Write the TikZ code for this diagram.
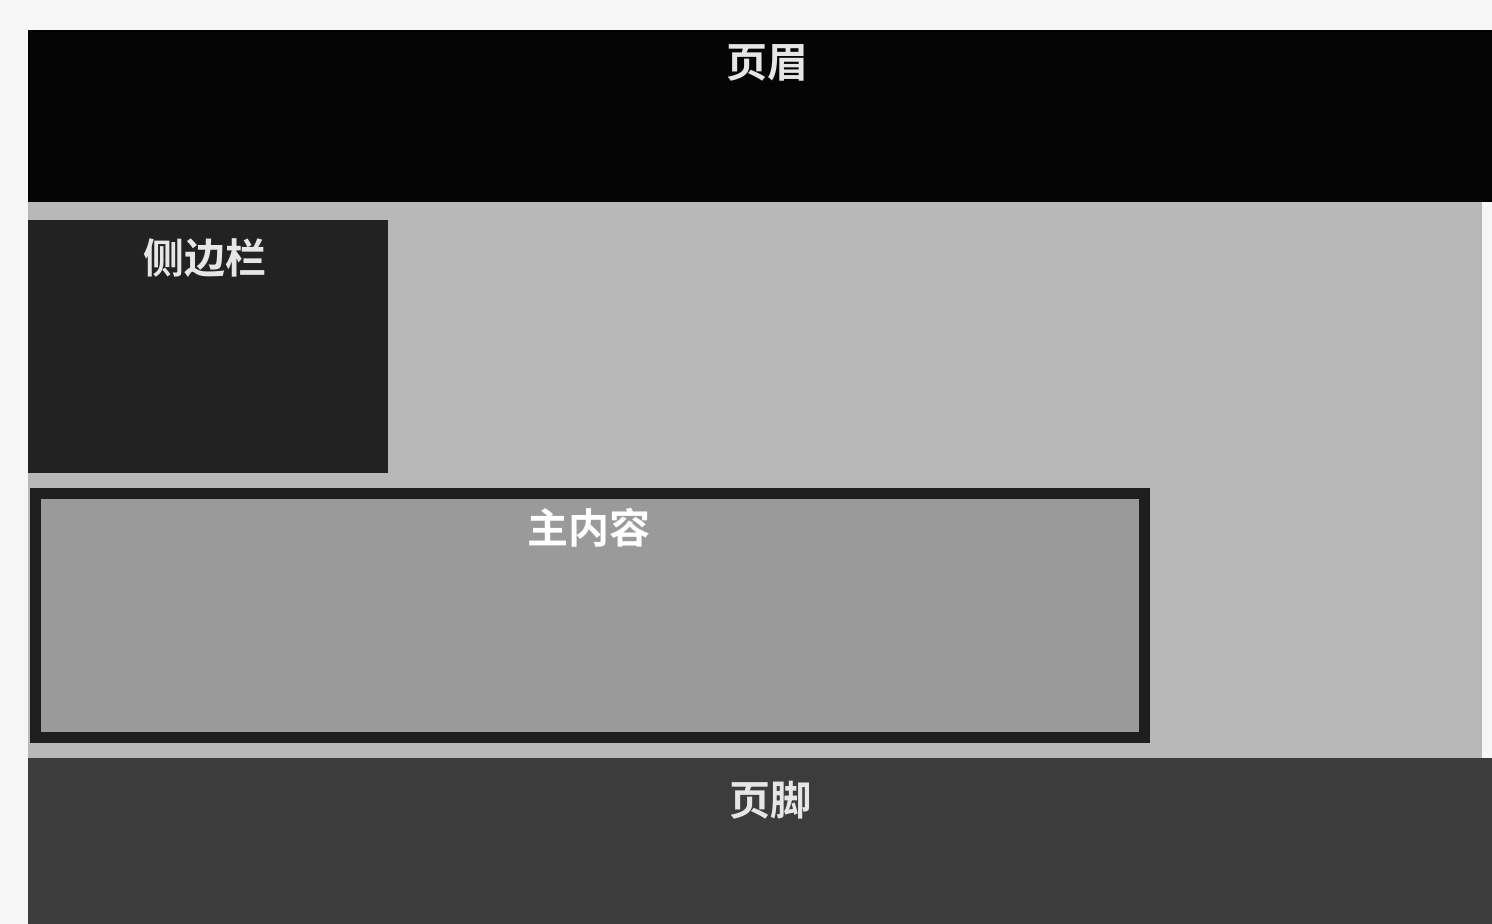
\documentclass[tikz,border=0pt]{standalone}
\usepackage{fontspec}
\newfontfamily\cjk{Noto Sans CJK SC}[BoldFont={* Bold}]
\usepackage{xcolor}
\usetikzlibrary{positioning}

\definecolor{pagebg}{HTML}{F6F6F6}
\definecolor{headbg}{HTML}{050505}
\definecolor{wrapbg}{HTML}{B8B8B8}
\definecolor{sidebg}{HTML}{222222}
\definecolor{mainbg}{HTML}{9A9A9A}
\definecolor{mainline}{HTML}{1E1E1E}
\definecolor{footbg}{HTML}{3C3C3C}
\definecolor{labeltext}{HTML}{E6E6E6}

\begin{document}
\begin{tikzpicture}[
    x=1pt, y=-1pt,
    block/.style={rectangle, inner sep=0pt, outer sep=0pt},
    title/.style={inner sep=0pt, text=labeltext, font=\cjk\bfseries\fontsize{41}{50}\selectfont}
]
    % Page
    \fill[pagebg] (0,0) rectangle (1492,924);
    \useasboundingbox (0,0) rectangle (1492,924);

    % Blocks
    \node[block, fill=headbg, minimum width=1464pt, minimum height=172pt] (header) at (760,116) {};
    \node[block, fill=wrapbg, minimum width=1454pt, minimum height=556pt] (wrapper) at (755,480) {};
    \node[block, fill=sidebg, minimum width=360pt, minimum height=253pt] (sidebar) at (208,346.5) {};
    \node[block, fill=mainbg, draw=mainline, line width=11pt, minimum width=1109pt, minimum height=244pt] (main) at (590,615.5) {};
    \node[block, fill=footbg, minimum width=1464pt, minimum height=166pt] (footer) at (760,841) {};

    % Labels
    \node[title] (header label) at (767,63) {页眉};
    \node[title] (sidebar label) at (205,258) {侧边栏};
    \node[title, text=white] (main label) at (589,528) {主内容};
    \node[title] (footer label) at (770,800) {页脚};
\end{tikzpicture}
\end{document}
